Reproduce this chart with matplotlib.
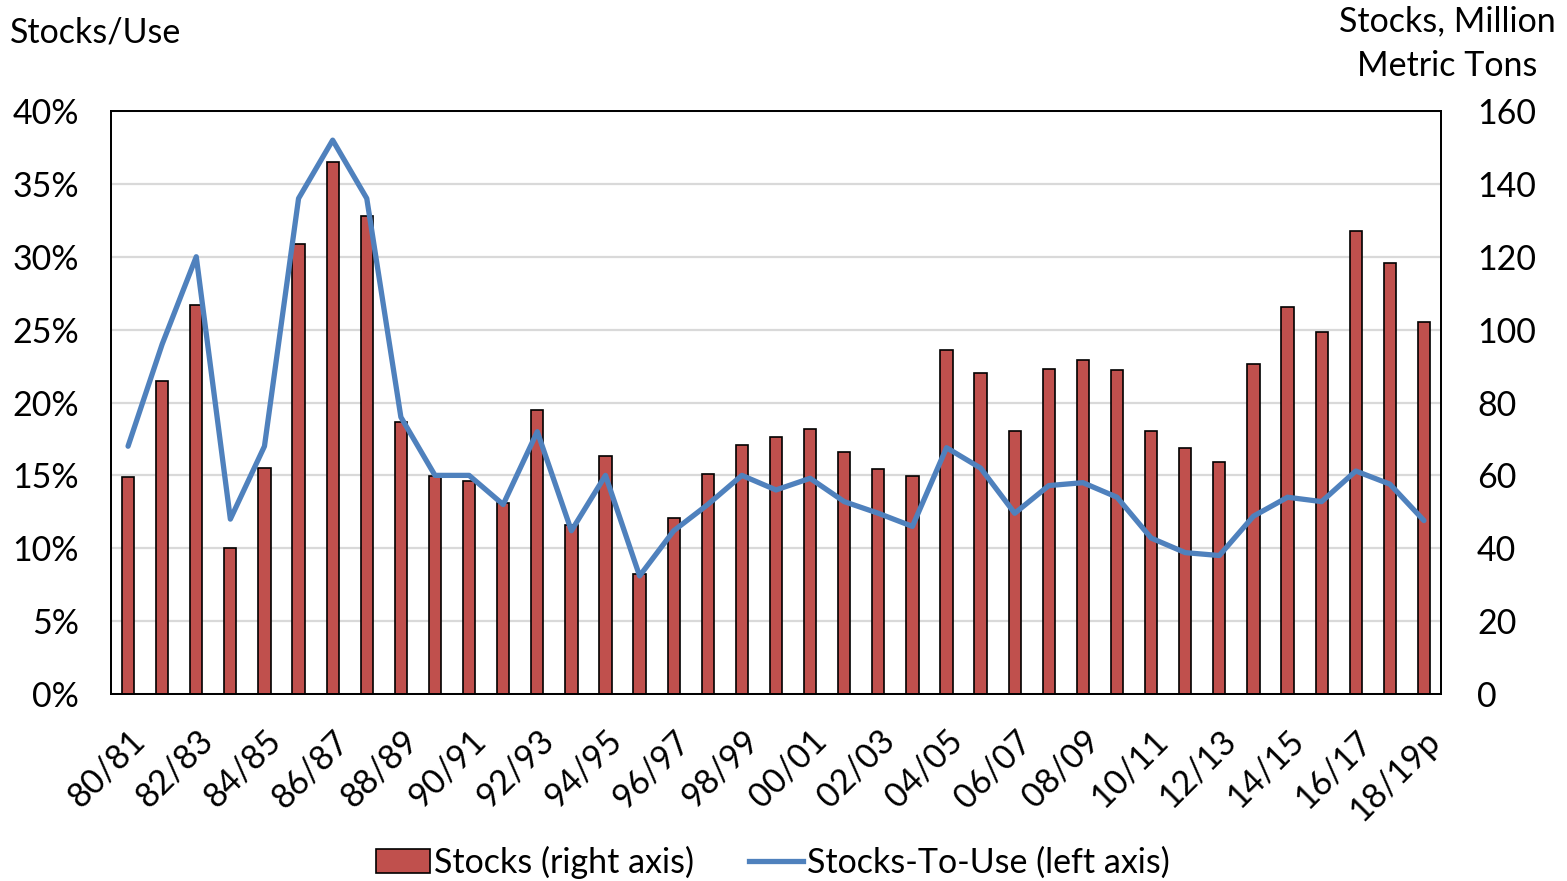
import matplotlib
matplotlib.use("Agg")
import matplotlib.pyplot as plt
from matplotlib.patches import Patch
from matplotlib.lines import Line2D
from matplotlib.ticker import FixedLocator, FuncFormatter

plt.rcParams['font.family'] = ['Lato', 'DejaVu Sans']

categories = ["80/81", "81/82", "82/83", "83/84", "84/85", "85/86", "86/87", "87/88",
              "88/89", "89/90", "90/91", "91/92", "92/93", "93/94", "94/95", "95/96",
              "96/97", "97/98", "98/99", "99/00", "00/01", "01/02", "02/03", "03/04",
              "04/05", "05/06", "06/07", "07/08", "08/09", "09/10", "10/11", "11/12",
              "12/13", "13/14", "14/15", "15/16", "16/17", "17/18", "18/19p"]

stocks = [59.6, 85.9, 106.8, 40.0, 62.1, 123.4, 146.1, 131.2,
          74.6, 59.9, 58.4, 52.5, 78.0, 46.5, 65.3, 33.0,
          48.2, 60.3, 68.4, 70.5, 72.8, 66.4, 61.8, 59.8,
          94.4, 88.1, 72.1, 89.2, 91.8, 89.0, 72.1, 67.5,
          63.7, 90.7, 106.3, 99.4, 127.2, 118.4, 102.0]

stocks_to_use = [17.0, 24.0, 30.0, 12.0, 17.0, 34.0, 38.0, 34.0,
                 19.0, 15.0, 15.0, 13.0, 18.0, 11.2, 15.0, 8.1,
                 11.2, 13.0, 15.0, 14.0, 14.8, 13.2, 12.4, 11.5,
                 16.9, 15.5, 12.4, 14.3, 14.5, 13.5, 10.7, 9.7,
                 9.5, 12.2, 13.5, 13.2, 15.3, 14.4, 11.9]

left_ticks = [0, 5, 10, 15, 20, 25, 30, 35, 40]
right_ticks = [0, 20, 40, 60, 80, 100, 120, 140, 160]

W, H = 1567, 881
fig = plt.figure(figsize=(W / 100, H / 100), dpi=100)
fig.patch.set_facecolor('white')

L, R, T, B = 111, 1441, 111, 694
ax = fig.add_axes([L / W, 1 - B / H, (R - L) / W, (B - T) / H])
ax2 = ax.twinx()
ax.set_zorder(2)
ax2.set_zorder(1)
ax.patch.set_visible(False)

x = list(range(len(categories)))
FS = 24.5

# Bars on right axis
ax2.bar(x, stocks, width=0.36, color='#C0504D', edgecolor='black', linewidth=1.2, zorder=3)
ax2.set_ylim(0, 160)
ax2.yaxis.set_major_locator(FixedLocator(right_ticks))
ax2.set_yticklabels([str(v) for v in right_ticks])
ax2.grid(axis='y', color='#D9D9D9', linewidth=1.6, zorder=0)
ax2.set_axisbelow(True)
ax2.tick_params(axis='y', length=0, pad=26, labelsize=FS)

# Line on left axis
ax.plot(x, [v / 100 for v in stocks_to_use], color='#4F81BD', linewidth=3.8, zorder=4,
        solid_joinstyle='round', solid_capstyle='round')
ax.set_ylim(0, 0.40)
ax.yaxis.set_major_locator(FixedLocator([v / 100 for v in left_ticks]))
ax.yaxis.set_major_formatter(FuncFormatter(lambda v, p: f"{v * 100:.0f}%"))
ax.tick_params(axis='y', length=0, pad=23, labelsize=FS)

ax.set_xlim(-0.5, len(categories) - 0.5)
ax.set_xticks(x[::2])
ax.set_xticklabels(categories[::2], rotation=45, ha='right', rotation_mode='anchor', fontsize=FS)
ax.tick_params(axis='x', length=0, pad=22)

for a in (ax, ax2):
    for s in a.spines.values():
        s.set_color('black')
        s.set_linewidth(1.3)

fig.text(10 / W, 1 - 33 / H, 'Stocks/Use', ha='left', va='center', fontsize=FS)
fig.text(1447 / W, 1 - 44 / H, 'Stocks, Million\nMetric Tons', ha='center', va='center',
         fontsize=FS, linespacing=1.5)

handles = [Patch(facecolor='#C0504D', edgecolor='black', linewidth=1.2),
           Line2D([0], [0], color='#4F81BD', linewidth=3.8)]
fig.legend(handles, ['Stocks (right axis)', 'Stocks-To-Use (left axis)'],
           loc='center', bbox_to_anchor=(773 / W, 1 - 862 / H), ncol=2, frameon=False,
           fontsize=FS, handlelength=1.6, handletextpad=0.12, columnspacing=1.6,
           borderaxespad=0, borderpad=0)

fig.savefig('out.png', dpi=100, facecolor='white')
